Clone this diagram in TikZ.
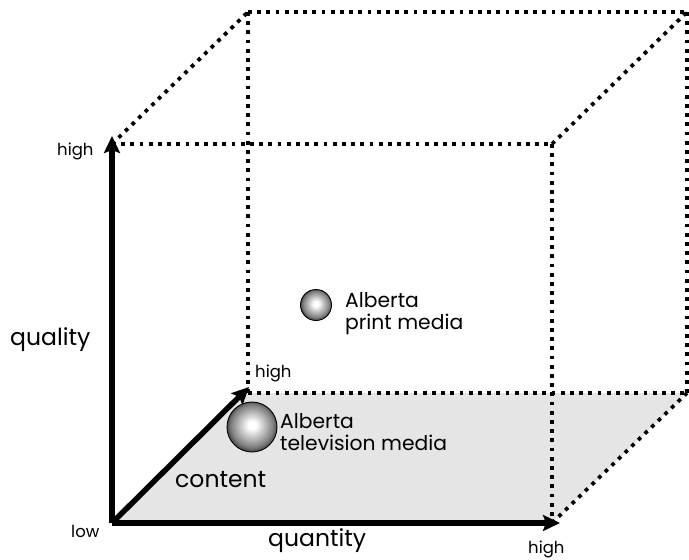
\documentclass[tikz,border=0pt]{standalone}
\usepackage{fontspec}
\setmainfont{Poppins}
\usetikzlibrary{arrows.meta}
\definecolor{floorgray}{HTML}{E5E5E5}
\pgfdeclareradialshading{sphereshade}{\pgfpoint{0bp}{2bp}}{%
  color(0bp)=(white);
  color(4bp)=(white);
  color(21bp)=(black!50);
  color(25bp)=(black!70);
  color(50bp)=(black!70)}
\begin{document}
\begin{tikzpicture}[x=1pt,y=-1pt,
  dotline/.style={line width=3.8pt,dash pattern=on 3.8pt off 5.4pt},
  axis/.style={line width=5.5pt,-{Stealth[length=17pt,width=16pt,inset=3pt]}},
  sphere/.style={circle,draw=black,line width=0.9pt,shading=sphereshade,inner sep=0pt},
  lbl/.style={inner sep=0pt,anchor=base west,font=\fontsize{23.5}{24}\selectfont},
  small/.style={inner sep=0pt,anchor=base west,font=\fontsize{16.5}{18}\selectfont},
  txt/.style={inner sep=0pt,anchor=base west,align=left,font=\fontsize{20.3}{22}\selectfont}]
\useasboundingbox (0,0) rectangle (689,560);
% corners
\coordinate (O) at (112,523);
\coordinate (Q) at (560,523);
\coordinate (U) at (112,136);
\coordinate (C) at (249,387);
\coordinate (FTL) at (112,144);
\coordinate (FTR) at (552,144);
\coordinate (FBR) at (552,523);
\coordinate (BTL) at (248,12);
\coordinate (BTR) at (687,12);
\coordinate (BBL) at (248,393);
\coordinate (BBR) at (687,393);
% floor
\fill[floorgray] (O) -- (FBR) -- (BBR) -- (BBL) -- cycle;
% dotted cube
\draw[dotline] (FTL) -- (FTR);
\draw[dotline] (FTR) -- (FBR);
\draw[dotline] (FTL) -- (BTL);
\draw[dotline] (BTL) -- (BTR);
\draw[dotline] (BTL) -- (BBL);
\draw[dotline] (BTR) -- (BBR);
\draw[dotline] (BBL) -- (BBR);
\draw[dotline] (FTR) -- (BTR);
\draw[dotline] (FBR) -- (BBR);
% axes
\draw[axis] (O) -- (Q);
\draw[axis] (O) -- (U);
\draw[axis] (O) -- (C);
% spheres
\node[sphere,minimum size=50pt] (tv) at (252,427) {};
\node[sphere,minimum size=31pt] (pr) at (316,305) {};
% labels
\node[lbl] (lq) at (10,345) {quality};
\node[lbl] (lc) at (175,487) {content};
\node[lbl] (lqt) at (268,546) {quantity};
\node[small] (h1) at (57,155) {high};
\node[small] (h2) at (255,377) {high};
\node[small] (h3) at (528,553) {high};
\node[small] (lo) at (71,537) {low};
\node[txt] (ltv) at (280,450) {Alberta\\television media};
\node[txt] (lpr) at (345,329) {Alberta\\print media};
\end{tikzpicture}
\end{document}
